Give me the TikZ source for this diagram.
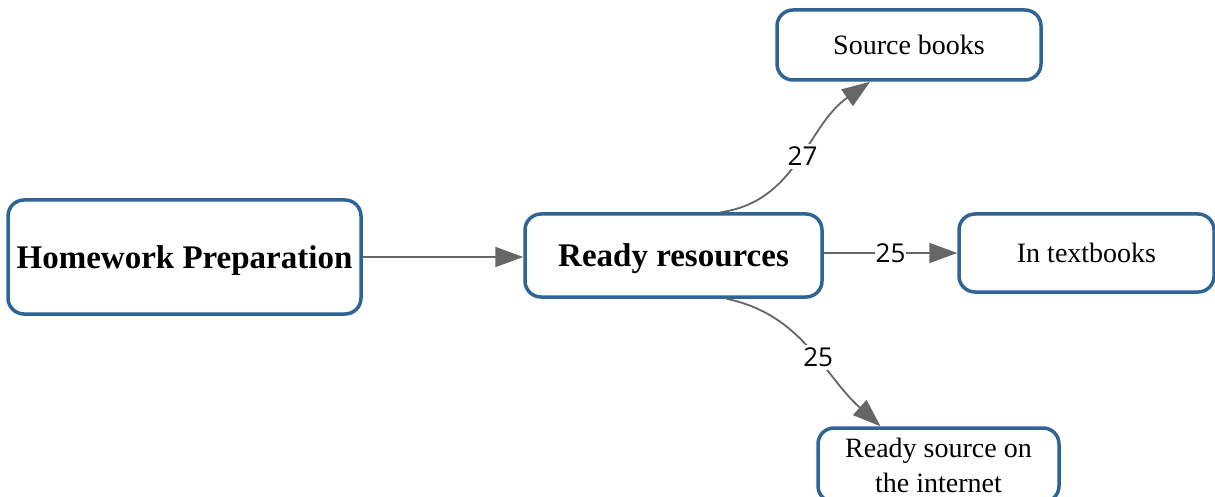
\documentclass[tikz,border=0pt]{standalone}
\usepackage{fontspec}
\setmainfont{Liberation Serif}
\newfontfamily\labelfont{Open Sans}
\usetikzlibrary{arrows.meta,calc}
\definecolor{boxblue}{HTML}{2F6496}
\definecolor{arrowgray}{HTML}{666666}
\tikzset{
  box/.style={draw=boxblue, line width=3.5pt, rounded corners=16pt, fill=white,
    inner sep=0pt, align=center, text=black},
  bigbox/.style={box, text depth=0pt, font=\fontsize{33}{38}\selectfont\bfseries},
  smallbox/.style={box, font=\fontsize{28}{35}\selectfont},
  conn/.style={draw=arrowgray, line width=1.8pt,
    -{Triangle[length=28pt,width=20pt]}, color=arrowgray},
  numlabel/.style={fill=white, inner sep=3pt, text=black,
    font=\labelfont\fontsize{26}{30}\selectfont}
}
\begin{document}
\begin{tikzpicture}[x=1pt,y=-1pt]
\clip (0,0) rectangle (1215,497);
\fill[white] (0,0) rectangle (1215,497);
\node[bigbox, minimum width=353pt, minimum height=114pt] (hp) at (184.5,257) {Homework Preparation};
\node[bigbox, minimum width=297pt, minimum height=83pt] (rr) at (673.5,255.5) {Ready resources};
\node[smallbox, text depth=0pt, minimum width=264pt, minimum height=70pt] (sb) at (909,45) {Source books};
\node[smallbox, text depth=0pt, minimum width=255pt, minimum height=78pt] (tb) at (1086.5,253) {In textbooks};
\node[smallbox, minimum width=241pt, minimum height=74pt] (ri) at (938.5,465) {Ready source on\\the internet};
\draw[conn] (hp.east) -- (rr.west |- hp.east);
\draw[conn] ([xshift=47pt]rr.north) to[out=8,in=215]
  node[numlabel, pos=0.52] (l27) {27} ([xshift=-39pt]sb.south);
\draw[conn] (rr.east |- tb.west) -- node[numlabel, inner sep=1pt] (l25a) {25} (tb.west);
\draw[conn] ([xshift=53pt]rr.south) to[out=-12,in=138]
  node[numlabel, pos=0.56] (l25b) {25} ([xshift=-58pt]ri.north);
\end{tikzpicture}
\end{document}
